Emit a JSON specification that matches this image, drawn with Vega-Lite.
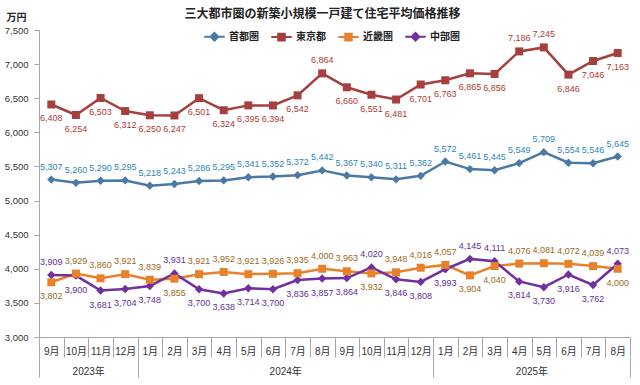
{
  "$schema": "https://vega.github.io/schema/vega-lite/v6.json",
  "width": 591,
  "height": 307,
  "autosize": {"type": "none"},
  "padding": {"left": 39, "top": 30, "right": 10, "bottom": 48},
  "background": "white",
  "config": {"view": {"stroke": null}, "numberFormat": ","},
  "title": {"text": "三大都市圏の新築小規模一戸建て住宅平均価格推移", "anchor": "middle", "font": "Noto Sans CJK JP", "fontSize": 12, "fontWeight": "bold", "color": "#222", "offset": -9, "dx": -12},
  "datasets": {
    "d": [
      {"month": "2023-09", "series": "首都圏", "value": 5307}, {"month": "2023-10", "series": "首都圏", "value": 5260}, {"month": "2023-11", "series": "首都圏", "value": 5290}, {"month": "2023-12", "series": "首都圏", "value": 5295},
      {"month": "2024-01", "series": "首都圏", "value": 5218}, {"month": "2024-02", "series": "首都圏", "value": 5243}, {"month": "2024-03", "series": "首都圏", "value": 5286}, {"month": "2024-04", "series": "首都圏", "value": 5295},
      {"month": "2024-05", "series": "首都圏", "value": 5341}, {"month": "2024-06", "series": "首都圏", "value": 5352}, {"month": "2024-07", "series": "首都圏", "value": 5372}, {"month": "2024-08", "series": "首都圏", "value": 5442},
      {"month": "2024-09", "series": "首都圏", "value": 5367}, {"month": "2024-10", "series": "首都圏", "value": 5340}, {"month": "2024-11", "series": "首都圏", "value": 5311}, {"month": "2024-12", "series": "首都圏", "value": 5362},
      {"month": "2025-01", "series": "首都圏", "value": 5572}, {"month": "2025-02", "series": "首都圏", "value": 5461}, {"month": "2025-03", "series": "首都圏", "value": 5445}, {"month": "2025-04", "series": "首都圏", "value": 5549},
      {"month": "2025-05", "series": "首都圏", "value": 5709}, {"month": "2025-06", "series": "首都圏", "value": 5554}, {"month": "2025-07", "series": "首都圏", "value": 5546}, {"month": "2025-08", "series": "首都圏", "value": 5645},
      {"month": "2023-09", "series": "東京都", "value": 6408}, {"month": "2023-10", "series": "東京都", "value": 6254}, {"month": "2023-11", "series": "東京都", "value": 6503}, {"month": "2023-12", "series": "東京都", "value": 6312},
      {"month": "2024-01", "series": "東京都", "value": 6250}, {"month": "2024-02", "series": "東京都", "value": 6247}, {"month": "2024-03", "series": "東京都", "value": 6501}, {"month": "2024-04", "series": "東京都", "value": 6324},
      {"month": "2024-05", "series": "東京都", "value": 6395}, {"month": "2024-06", "series": "東京都", "value": 6394}, {"month": "2024-07", "series": "東京都", "value": 6542}, {"month": "2024-08", "series": "東京都", "value": 6864},
      {"month": "2024-09", "series": "東京都", "value": 6660}, {"month": "2024-10", "series": "東京都", "value": 6551}, {"month": "2024-11", "series": "東京都", "value": 6481}, {"month": "2024-12", "series": "東京都", "value": 6701},
      {"month": "2025-01", "series": "東京都", "value": 6763}, {"month": "2025-02", "series": "東京都", "value": 6865}, {"month": "2025-03", "series": "東京都", "value": 6856}, {"month": "2025-04", "series": "東京都", "value": 7186},
      {"month": "2025-05", "series": "東京都", "value": 7245}, {"month": "2025-06", "series": "東京都", "value": 6846}, {"month": "2025-07", "series": "東京都", "value": 7046}, {"month": "2025-08", "series": "東京都", "value": 7163},
      {"month": "2023-09", "series": "近畿圏", "value": 3802}, {"month": "2023-10", "series": "近畿圏", "value": 3929}, {"month": "2023-11", "series": "近畿圏", "value": 3860}, {"month": "2023-12", "series": "近畿圏", "value": 3921},
      {"month": "2024-01", "series": "近畿圏", "value": 3839}, {"month": "2024-02", "series": "近畿圏", "value": 3855}, {"month": "2024-03", "series": "近畿圏", "value": 3921}, {"month": "2024-04", "series": "近畿圏", "value": 3952},
      {"month": "2024-05", "series": "近畿圏", "value": 3921}, {"month": "2024-06", "series": "近畿圏", "value": 3926}, {"month": "2024-07", "series": "近畿圏", "value": 3935}, {"month": "2024-08", "series": "近畿圏", "value": 4000},
      {"month": "2024-09", "series": "近畿圏", "value": 3963}, {"month": "2024-10", "series": "近畿圏", "value": 3932}, {"month": "2024-11", "series": "近畿圏", "value": 3948}, {"month": "2024-12", "series": "近畿圏", "value": 4016},
      {"month": "2025-01", "series": "近畿圏", "value": 4057}, {"month": "2025-02", "series": "近畿圏", "value": 3904}, {"month": "2025-03", "series": "近畿圏", "value": 4040}, {"month": "2025-04", "series": "近畿圏", "value": 4076},
      {"month": "2025-05", "series": "近畿圏", "value": 4081}, {"month": "2025-06", "series": "近畿圏", "value": 4072}, {"month": "2025-07", "series": "近畿圏", "value": 4039}, {"month": "2025-08", "series": "近畿圏", "value": 4000},
      {"month": "2023-09", "series": "中部圏", "value": 3909}, {"month": "2023-10", "series": "中部圏", "value": 3900}, {"month": "2023-11", "series": "中部圏", "value": 3681}, {"month": "2023-12", "series": "中部圏", "value": 3704},
      {"month": "2024-01", "series": "中部圏", "value": 3748}, {"month": "2024-02", "series": "中部圏", "value": 3931}, {"month": "2024-03", "series": "中部圏", "value": 3700}, {"month": "2024-04", "series": "中部圏", "value": 3638},
      {"month": "2024-05", "series": "中部圏", "value": 3714}, {"month": "2024-06", "series": "中部圏", "value": 3700}, {"month": "2024-07", "series": "中部圏", "value": 3836}, {"month": "2024-08", "series": "中部圏", "value": 3857},
      {"month": "2024-09", "series": "中部圏", "value": 3864}, {"month": "2024-10", "series": "中部圏", "value": 4020}, {"month": "2024-11", "series": "中部圏", "value": 3846}, {"month": "2024-12", "series": "中部圏", "value": 3808},
      {"month": "2025-01", "series": "中部圏", "value": 3993}, {"month": "2025-02", "series": "中部圏", "value": 4145}, {"month": "2025-03", "series": "中部圏", "value": 4111}, {"month": "2025-04", "series": "中部圏", "value": 3814},
      {"month": "2025-05", "series": "中部圏", "value": 3730}, {"month": "2025-06", "series": "中部圏", "value": 3916}, {"month": "2025-07", "series": "中部圏", "value": 3762}, {"month": "2025-08", "series": "中部圏", "value": 4073}
    ]
  },
  "data": {"name": "d"},
  "encoding": {
    "y": {
      "field": "value", "type": "quantitative",
      "scale": {"domain": [3000, 7500], "nice": false, "zero": false},
      "axis": {
        "values": [3000, 3500, 4000, 4500, 5000, 5500, 6000, 6500, 7000, 7500], "labelExpr": "format(datum.value, ',')", "grid": false,
        "ticks": true, "tickSize": 5, "tickColor": "#A6A6A6", "domainColor": "#A6A6A6", "labelPadding": 6,
        "labelFont": "Liberation Sans", "labelFontSize": 9.5, "labelColor": "#333",
        "title": "万円", "titleAngle": 0, "titleX": -23, "titleY": -13, "titleAlign": "center", "titleBaseline": "middle",
        "titleFont": "Noto Sans CJK JP", "titleFontSize": 10, "titleFontWeight": "bold", "titleColor": "#222"
      }
    }
  },
  "resolve": {"scale": {"x": "independent"}, "axis": {"x": "independent"}},
  "layer": [
    {
      "encoding": {
        "x": {
          "field": "month", "type": "ordinal",
          "scale": {"type": "band", "paddingInner": 0, "paddingOuter": 0},
          "axis": {
            "orient": "bottom", "title": null, "labelAngle": 0, "ticks": true, "tickBand": "extent", "tickSize": 20, "tickWidth": 1, "tickOpacity": 1, "tickColor": "#A6A6A6", "domainColor": "#A6A6A6",
            "labelExpr": "isString(datum.value) ? toNumber(substring(datum.value, 5, 7)) + '月' : ''",
            "labelFont": "Liberation Sans, Noto Sans CJK JP", "labelFontSize": 10, "labelColor": "#333", "labelBaseline": "middle", "labelPadding": -6
          }
        }
      },
      "layer": [
        {
          "mark": {"type": "line", "strokeWidth": 2.5},
          "encoding": {
            "color": {
              "field": "series", "type": "nominal",
              "scale": {"domain": ["首都圏", "東京都", "近畿圏", "中部圏"], "range": ["#4A79A5", "#A5403E", "#E8822A", "#7030A0"]},
              "legend": {
                "orient": "none", "legendX": 164, "legendY": -5, "direction": "horizontal", "title": null,
                "labelFont": "Noto Sans CJK JP", "labelFontSize": 10, "labelFontWeight": "bold", "labelColor": "#222",
                "symbolSize": 420, "symbolStrokeWidth": 2, "labelOffset": 3, "columnPadding": 8,
                "encode": {"symbols": {"update": {
                  "shape": {"signal": "datum.value === '首都圏' || datum.value === '中部圏' ? 'M-1,0H1M0,-0.38L0.38,0L0,0.38L-0.38,0Z' : 'M-1,0H1M-0.32,-0.32H0.32V0.32H-0.32Z'"},
                  "fill": {"signal": "scale('color', datum.value)"}
                }}}
              }
            }
          }
        },
        {
          "transform": [{"filter": {"field": "series", "oneOf": ["首都圏", "中部圏"]}}],
          "mark": {"type": "point", "filled": true, "size": 70, "opacity": 1, "shape": "diamond"},
          "encoding": {"color": {"field": "series", "type": "nominal"}}
        },
        {
          "transform": [{"filter": {"field": "series", "oneOf": ["東京都", "近畿圏"]}}],
          "mark": {"type": "point", "filled": true, "size": 64, "opacity": 1, "shape": "square"},
          "encoding": {"color": {"field": "series", "type": "nominal"}}
        },
        {
          "transform": [{"filter": "datum.series === '首都圏' || (datum.series === '東京都' && indexof(['2024-08', '2025-04', '2025-05'], datum.month) >= 0)"}],
          "mark": {"type": "text", "dy": -13, "font": "Liberation Sans", "fontSize": 9, "baseline": "middle"},
          "encoding": {
            "text": {"field": "value", "type": "quantitative", "format": ","},
            "fill": {"field": "series", "type": "nominal", "scale": {"domain": ["首都圏", "東京都", "近畿圏", "中部圏"], "range": ["#2E86B8", "#B03A35", "#9C6A1A", "#5E2F96"]}, "legend": null}
          }
        },
        {
          "transform": [{"filter": "datum.series === '東京都' && indexof(['2024-08', '2025-04', '2025-05'], datum.month) < 0"}],
          "mark": {"type": "text", "dy": 14, "font": "Liberation Sans", "fontSize": 9, "baseline": "middle"},
          "encoding": {
            "text": {"field": "value", "type": "quantitative", "format": ","},
            "fill": {"field": "series", "type": "nominal", "legend": null}
          }
        },
        {
          "transform": [
            {"filter": {"field": "series", "oneOf": ["近畿圏", "中部圏"]}},
            {"joinaggregate": [{"op": "max", "field": "value", "as": "mx"}], "groupby": ["month"]},
            {"filter": "datum.value === datum.mx"}
          ],
          "mark": {"type": "text", "dy": -13, "font": "Liberation Sans", "fontSize": 9, "baseline": "middle"},
          "encoding": {
            "text": {"field": "value", "type": "quantitative", "format": ","},
            "fill": {"field": "series", "type": "nominal", "legend": null}
          }
        },
        {
          "transform": [
            {"filter": {"field": "series", "oneOf": ["近畿圏", "中部圏"]}},
            {"joinaggregate": [{"op": "max", "field": "value", "as": "mx"}], "groupby": ["month"]},
            {"filter": "datum.value < datum.mx"}
          ],
          "mark": {"type": "text", "dy": 14, "font": "Liberation Sans", "fontSize": 9, "baseline": "middle"},
          "encoding": {
            "text": {"field": "value", "type": "quantitative", "format": ","},
            "fill": {"field": "series", "type": "nominal", "legend": null}
          }
        }
      ]
    },
    {
      "mark": {"type": "point", "opacity": 0},
      "encoding": {
        "x": {
          "field": "month", "type": "ordinal",
          "scale": {"type": "band", "paddingInner": 0, "paddingOuter": 0},
          "axis": {
            "orient": "bottom", "title": null, "labelAngle": 0, "offset": 20, "domain": false, "ticks": true, "tickBand": "extent", "tickSize": 20, "tickWidth": 1,
            "tickColor": {"condition": {"test": "!isString(datum.value) || indexof(['2023-12', '2024-12', '2025-08'], datum.value) >= 0", "value": "#A6A6A6"}, "value": "transparent"},
            "labelExpr": "datum.value === '2023-10' ? '2023年' : datum.value === '2024-06' ? '2024年' : datum.value === '2025-04' ? '2025年' : ''",
            "labelOffset": 12.3, "labelFont": "Liberation Sans, Noto Sans CJK JP", "labelFontSize": 10, "labelColor": "#333",
            "labelBaseline": "middle", "labelPadding": -6, "labelOverlap": false
          }
        }
      }
    }
  ]
}
